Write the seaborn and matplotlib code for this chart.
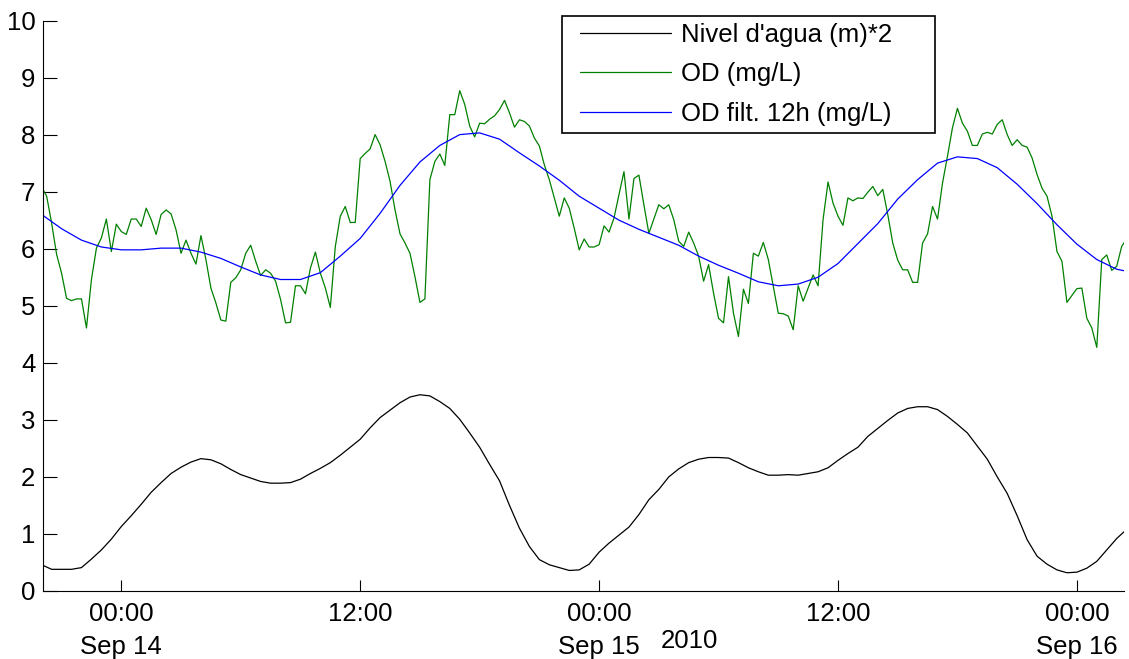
import matplotlib
matplotlib.use("Agg")
import matplotlib.pyplot as plt
import matplotlib.dates as mdates
from matplotlib.patches import Rectangle
import pandas as pd
import seaborn as sns

# ---------------- data ----------------
start = "2010-09-13 20:00"

# water level (m)*2, every 30 min
nivel = [0.46, 0.38, 0.38, 0.38, 0.41, 0.56, 0.72, 0.91, 1.13, 1.32,
         1.52, 1.73, 1.90, 2.06, 2.17, 2.26, 2.32, 2.30, 2.23, 2.13,
         2.04, 1.98, 1.92, 1.89, 1.89, 1.90, 1.96, 2.06, 2.15, 2.25,
         2.38, 2.52, 2.66, 2.86, 3.04, 3.17, 3.30, 3.40, 3.44, 3.42,
         3.32, 3.20, 3.01, 2.77, 2.52, 2.22, 1.93, 1.50, 1.10, 0.78,
         0.55, 0.46, 0.41, 0.36, 0.37, 0.47, 0.68, 0.84, 0.98, 1.12,
         1.34, 1.60, 1.78, 2.00, 2.14, 2.25, 2.31, 2.34, 2.34, 2.33,
         2.25, 2.16, 2.09, 2.03, 2.03, 2.04, 2.03, 2.06, 2.09, 2.16,
         2.29, 2.41, 2.52, 2.71, 2.85, 2.99, 3.12, 3.20, 3.23, 3.23,
         3.18, 3.06, 2.92, 2.77, 2.54, 2.31, 2.00, 1.71, 1.32, 0.90,
         0.61, 0.47, 0.37, 0.32, 0.33, 0.40, 0.52, 0.72, 0.92, 1.08]

# dissolved oxygen (mg/L), every 15 min
od = [7.08, 6.92, 6.45, 5.90, 5.57, 5.13, 5.09, 5.12, 5.12, 4.61,
      5.46, 6.01, 6.19, 6.52, 5.95, 6.43, 6.30, 6.25, 6.52, 6.52,
      6.39, 6.71, 6.51, 6.25, 6.60, 6.68, 6.61, 6.33, 5.92, 6.15,
      5.92, 5.73, 6.23, 5.81, 5.31, 5.05, 4.75, 4.73, 5.41, 5.49,
      5.63, 5.92, 6.06, 5.78, 5.53, 5.63, 5.57, 5.43, 5.11, 4.70,
      4.71, 5.35, 5.35, 5.21, 5.66, 5.94, 5.57, 5.31, 4.97, 6.04,
      6.57, 6.74, 6.46, 6.46, 7.58, 7.67, 7.75, 8.00, 7.82, 7.53,
      7.18, 6.68, 6.26, 6.10, 5.92, 5.51, 5.06, 5.12, 7.21, 7.53,
      7.66, 7.46, 8.35, 8.35, 8.77, 8.53, 8.15, 7.96, 8.20, 8.19,
      8.27, 8.33, 8.44, 8.60, 8.38, 8.13, 8.26, 8.23, 8.15, 7.94,
      7.80, 7.47, 7.21, 6.89, 6.57, 6.89, 6.71, 6.36, 5.98, 6.17,
      6.03, 6.03, 6.07, 6.40, 6.29, 6.54, 6.95, 7.35, 6.52, 7.23,
      7.29, 6.77, 6.27, 6.52, 6.77, 6.70, 6.77, 6.51, 6.13, 6.04,
      6.29, 6.10, 5.87, 5.43, 5.72, 5.22, 4.78, 4.70, 5.51, 4.87,
      4.46, 5.29, 5.04, 5.92, 5.87, 6.11, 5.81, 5.34, 4.87, 4.86,
      4.82, 4.58, 5.35, 5.08, 5.31, 5.54, 5.35, 6.51, 7.17, 6.80,
      6.57, 6.41, 6.89, 6.84, 6.89, 6.88, 6.99, 7.09, 6.93, 7.04,
      6.60, 6.10, 5.80, 5.63, 5.63, 5.41, 5.41, 6.10, 6.26, 6.74,
      6.52, 7.15, 7.62, 8.12, 8.46, 8.20, 8.06, 7.81, 7.81, 8.01,
      8.04, 8.01, 8.18, 8.26, 8.00, 7.81, 7.91, 7.81, 7.78, 7.59,
      7.30, 7.06, 6.92, 6.57, 5.95, 5.78, 5.06, 5.18, 5.30, 5.31,
      4.78, 4.61, 4.27, 5.81, 5.89, 5.62, 5.69, 6.04, 6.17]

# 12 h filtered dissolved oxygen (mg/L), hourly
od_filt = [6.60, 6.35, 6.15, 6.03, 5.98, 5.98, 6.01, 6.01, 5.94, 5.83,
           5.68, 5.54, 5.46, 5.46, 5.58, 5.87, 6.18, 6.62, 7.11, 7.52,
           7.81, 8.00, 8.03, 7.92, 7.68, 7.45, 7.20, 6.92, 6.71, 6.50,
           6.34, 6.20, 6.06, 5.87, 5.71, 5.57, 5.42, 5.35, 5.38, 5.50,
           5.74, 6.09, 6.44, 6.87, 7.21, 7.50, 7.61, 7.58, 7.42, 7.13,
           6.79, 6.42, 6.08, 5.81, 5.64, 5.57]

series_labels = ["Nivel d'agua (m)*2", "OD (mg/L)", "OD filt. 12h (mg/L)"]
y_ticks = list(range(0, 11))
year_label = "2010"

# ---------------- frames ----------------
df_nivel = pd.DataFrame({"t": pd.date_range(start, periods=len(nivel), freq="30min"), "v": nivel})
df_od = pd.DataFrame({"t": pd.date_range(start, periods=len(od), freq="15min"), "v": od})
df_filt = pd.DataFrame({"t": pd.date_range(start, periods=len(od_filt), freq="1h"), "v": od_filt})

# ---------------- style ----------------
sns.set_theme(style="white")
plt.rcParams["font.family"] = ["Liberation Sans", "DejaVu Sans"]
FS = 18.5

W, H = 1129, 659
fig = plt.figure(figsize=(W / 100, H / 100), dpi=100)
ax = fig.add_axes([43 / W, 68 / H, 1081 / W, 570.5 / H])

sns.lineplot(data=df_nivel, x="t", y="v", color="black", lw=0.9, label=series_labels[0], ax=ax)
sns.lineplot(data=df_od, x="t", y="v", color="#008000", lw=0.9, label=series_labels[1], ax=ax)
sns.lineplot(data=df_filt, x="t", y="v", color="#0000ff", lw=0.9, label=series_labels[2], ax=ax)

ax.set_xlim(pd.Timestamp("2010-09-13 20:04"), pd.Timestamp("2010-09-16 02:22"))
ax.set_ylim(0, 10)
ax.set_yticks(y_ticks)
ax.set_xlabel("")
ax.set_ylabel("")

ax.xaxis.set_major_locator(mdates.HourLocator(byhour=[0, 12]))


def fmt(x, pos):
    d = mdates.num2date(x)
    if d.hour == 0:
        return d.strftime("%H:%M") + "\n" + d.strftime("%b %d")
    return d.strftime("%H:%M")


ax.xaxis.set_major_formatter(plt.FuncFormatter(fmt))

for s in ("top", "right"):
    ax.spines[s].set_visible(False)
for s in ("left", "bottom"):
    ax.spines[s].set_color("black")
    ax.spines[s].set_linewidth(0.8)

ax.tick_params(axis="y", direction="in", length=10, width=0.8, color="black",
               labelsize=FS, labelcolor="black", pad=5.5, left=True)
ax.tick_params(axis="x", direction="in", length=8, width=0.8, color="black",
               labelsize=FS, labelcolor="black", pad=8, bottom=True)

fig.canvas.draw()
for lab in ax.get_xticklabels():
    lab.set_linespacing(1.45)

ax.text((689 - 43) / 1081, (591 - 641) / 570.5, year_label, transform=ax.transAxes,
        ha="center", va="center", fontsize=FS, color="black")

handles, labels = ax.get_legend_handles_labels()
leg = ax.legend(handles, labels, frameon=False, loc="upper left",
                bbox_to_anchor=((580 - 43) / 1081, (591 - 23) / 570.5),
                borderpad=0, borderaxespad=0, handlelength=3.55, handletextpad=0.4,
                labelspacing=0.6, fontsize=FS)
for t in leg.get_texts():
    t.set_color("black")

fig.add_artist(Rectangle((562 / W, (H - 133) / H), (935 - 562) / W, (133 - 16) / H,
                         transform=fig.transFigure, fill=False, ec="black", lw=1.2))

fig.savefig("out.png", dpi=100)
